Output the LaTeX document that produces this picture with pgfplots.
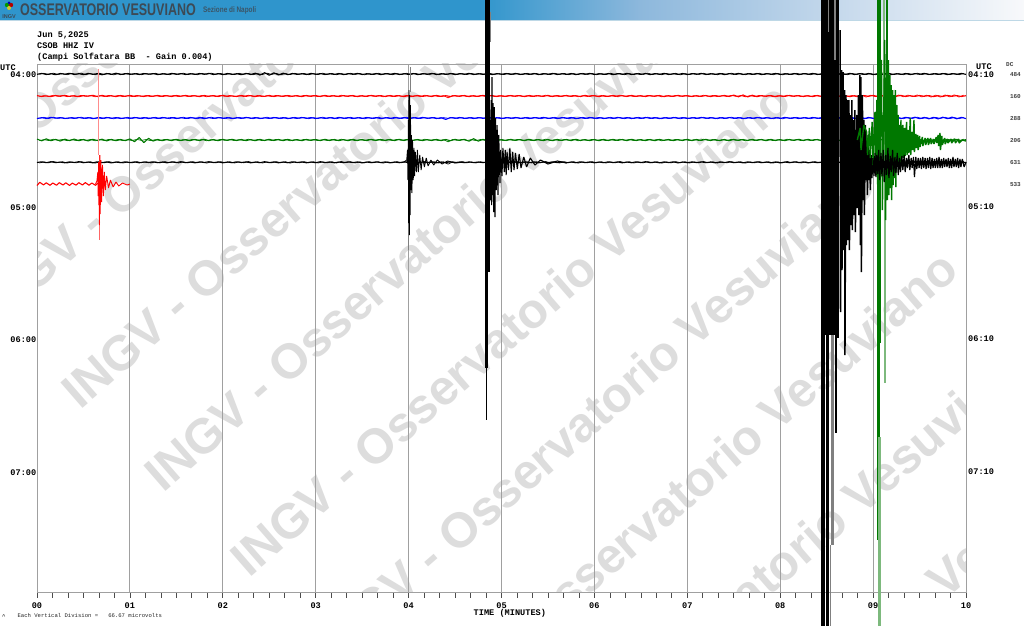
\documentclass[border=0pt]{standalone}
\usepackage{pgfplots}
\usepackage{pgfplotstable}
\usepackage{fontspec}
\pgfplotsset{compat=1.18}
\setmainfont{Liberation Sans}
\newfontfamily\mono{Liberation Mono}
\newcommand\px[1]{\fontsize{#1}{#1}\selectfont}
\definecolor{wm}{HTML}{DDDDDD}
\definecolor{hdr}{HTML}{2F95CC}
\definecolor{hb}{HTML}{8DB8DC}
\definecolor{hc}{HTML}{C6D9EC}
\definecolor{hd}{HTML}{F8F9FB}
\definecolor{grn}{HTML}{007800}
\definecolor{lgrn}{HTML}{7DB97D}
\definecolor{gridc}{HTML}{A0A0A0}
\definecolor{ttl}{HTML}{3D4A55}
\pgfplotstableread{
x a b c d e
0.00 .3 -.4 .5 -.9 .2
0.05 -.6 .5 -.3 .8 -.5
0.10 .5 -.2 .4 -1.1 .4
0.15 -.3 .6 -.6 .7 -.6
0.20 .7 -.5 .2 -.6 .3
0.25 -.5 .3 -.4 1.0 -.2
0.30 .2 -.6 .5 -.8 .5
0.35 -.7 .4 -.2 .6 -.4
0.40 .4 -.3 .4 -.9 .2
0.45 -.3 .7 -.5 .7 -.6
0.50 .6 -.4 .3 -.5 .4
0.55 -.6 .2 -.4 .9 -.3
0.60 .3 -.7 .6 -.7 .5
0.65 -.4 .5 -.3 .5 -.5
0.70 .8 -.6 .4 -.8 .3
0.75 -.5 .4 -.5 .9 -.4
0.80 .4 -.3 .3 -.6 .6
0.85 -.8 .6 -.4 .7 -.3
0.90 .5 -.5 .5 -.5 .4
0.95 -.4 .3 -.2 .6 -.5
1.00 .3 -.6 .4 -1.0 .3
1.05 -.3 .4 -.5 1.6 -.4
1.10 .5 -.2 .3 -2.4 .5
1.15 -.5 .5 -.4 2.6 -.3
1.20 .2 -.4 .5 -1.6 .2
1.25 -.4 .3 -.3 1.0 -.5
1.30 .6 -.6 .4 -.6 .4
1.35 -.3 .4 -.5 .7 -.3
1.40 .4 -.3 .2 -.5 .5
1.45 -.6 .5 -.4 .6 -.4
1.50 .3 -.5 .5 -.7 .3
1.55 -.4 .2 -.3 .5 -.6
1.60 .5 -.6 .4 -.4 .4
1.65 -.3 .4 -.5 .6 -.3
1.70 .4 -.3 .3 -.6 .5
1.75 -.5 .6 -.4 .5 -.4
1.80 .3 -.5 .6 -.7 .2
1.85 -.6 .3 -.3 .6 -.6
1.90 .5 -.4 .4 -.5 .3
1.95 -.4 .5 -.5 .7 -.4
2.00 .6 -.6 .3 -.6 .5
2.05 -.5 .4 -.4 .4 -.3
2.10 .4 -.2 .5 -.7 .4
2.15 -.3 .5 -.3 .5 -.5
2.20 .7 -.5 .4 -.5 .2
2.25 -.6 .3 -.6 .6 -.4
2.30 .5 -.4 .3 -.4 .5
2.35 -.8 .6 -.4 .7 -.3
2.40 1.0 -.3 .5 -.6 .4
2.45 -1.3 .4 -.2 .5 -.6
2.50 1.2 -.6 .4 -.7 .3
2.55 -1.1 .5 -.5 .5 -.4
2.60 .9 -.3 .3 -.5 .5
2.65 -.8 .4 -.4 .6 -.3
2.70 .6 -.5 .6 -.6 .4
2.75 -.5 .3 -.3 .5 -.5
2.80 .4 -.4 .4 -.4 .2
2.85 -.3 .6 -.5 .7 -.4
2.90 .5 -.5 .3 -.6 .5
2.95 -.6 .3 -.4 .4 -.3
3.00 .3 -.4 .5 -.5 .4
3.05 -.4 .5 -.3 .6 -.6
3.10 .5 -.6 .4 -.7 .3
3.15 -.3 .4 -.4 .5 -.4
3.20 .4 -.3 .5 -.5 .5
3.25 -.5 .5 -.6 .6 -.3
3.30 .6 -.4 .3 -.4 .4
3.35 -.4 .3 -.4 .7 -.5
3.40 .3 -.5 .5 -.6 .3
3.45 -.6 .6 -.3 .5 -.4
3.50 .5 -.3 .4 -.5 .6
3.55 -.3 .4 -.5 .6 -.3
3.60 .4 -.6 .3 -.7 .4
3.65 -.5 .3 -.4 .5 -.5
3.70 .6 -.4 .6 -.6 .3
3.75 -.4 .5 -.3 .4 -.4
3.80 .3 -.5 .4 -.5 .5
3.85 -.6 .4 -.5 .6 -.3
3.90 .5 -.3 .3 -.7 .4
3.95 -.3 .6 -.4 .5 -.5
4.00 .4 -.4 .5 -.6 .3
4.05 -.5 .3 -.3 .4 -.4
4.10 .6 -.5 .4 -.5 .4
4.15 -.4 .4 -.6 .6 -.3
4.20 .3 -.3 .3 -.4 .3
4.25 -.6 .5 -.4 .5 -.4
4.30 .5 -.6 .5 -.6 .5
4.35 -.3 .4 -.3 .6 -.3
4.40 .4 -.3 1.4 -.5 .2
4.45 -.5 .5 -.4 .7 -.4
4.50 .6 -.4 .3 -.6 .3
4.55 -.4 .3 -.5 .4 -.3
4.60 .3 -.5 .4 -.7 .4
4.65 -.6 .6 -.3 1.2 -.4
4.70 .5 -.3 .5 -1.3 .3
4.75 -.3 .4 -.4 1.1 -.3
4.80 .4 -.6 .3 -.6 .3
4.85 -.5 .3 -.5 .5 -.4
4.90 .6 -.4 .4 -.5 .3
4.95 -.4 .5 -.3 .6 -.3
5.00 .3 -.3 .5 -.4 .4
5.05 -.5 .4 -.4 .5 -.4
5.10 .4 -.5 .3 -.6 .3
5.15 -.6 .3 -.5 .4 -.3
5.20 .5 -.4 .4 -.5 .4
5.25 -.3 .6 -.3 .6 -.5
5.30 .4 -.5 .5 -.7 .3
5.35 -.5 .3 -.4 .5 -.4
5.40 .6 -.3 .3 -.4 .5
5.45 -.4 .4 -.6 .6 -.3
5.50 .3 -.6 .4 -.5 .4
5.55 -.6 .5 -.3 .7 -.5
5.60 .5 -.4 .5 -.6 .3
5.65 -.3 .3 -.4 .4 -.4
5.70 .4 -.5 .3 -.5 .5
5.75 -.5 .4 -.5 .6 -.3
5.80 .6 -.3 .6 -.7 .4
5.85 -.4 .5 -.3 .5 -.5
5.90 .3 -.6 .4 -.4 .3
5.95 -.6 .3 -.5 .6 -.4
6.00 .5 -.4 .3 -.5 .5
6.05 -.3 .6 -.4 .7 -.3
6.10 .4 -.3 .5 -.6 .4
6.15 -.5 .4 -.3 .5 -.5
6.20 .6 -.5 .4 -.6 .3
6.25 -.4 .3 -.6 .4 -.4
6.30 .3 -.4 .3 -.5 .5
6.35 -.6 .5 -.4 .6 -.3
6.40 .5 -.6 .5 -.7 .4
6.45 -.3 .4 -.3 .5 -.5
6.50 .4 -.3 .4 -.4 .3
6.55 -.5 .5 -.5 .6 -.6
6.60 .6 -.4 .3 -.5 .4
6.65 -.4 .3 -.4 .7 -.3
6.70 .3 -.5 .6 -.6 .5
6.75 -.6 .6 -.3 .4 -.4
6.80 .5 -.3 .4 -.5 .3
6.85 -.3 .4 -.5 .6 -.5
6.90 .4 -.6 .3 -.4 .6
6.95 -.5 .3 -.4 .5 -.3
7.00 .6 -.4 .5 -.7 .4
7.05 -.4 .5 -.3 .6 -.4
7.10 .3 -.3 .4 -.5 .3
7.15 -.6 .4 -.6 .4 -.5
7.20 .5 -.5 .3 -.6 .4
7.25 -.3 .6 -.4 .5 -.3
7.30 .4 -.4 .5 -.4 .5
7.35 -.5 .3 -.3 .6 -.4
7.40 .6 -.6 .4 -.5 .3
7.45 -.4 .5 -.5 .7 -.6
7.50 .3 -.9 .3 -.6 .4
7.55 -.6 .8 -.4 .4 -.3
7.60 .5 -1.0 .6 -.5 .5
7.65 -.3 .9 -.3 .5 -.4
7.70 .4 -.8 .4 -.6 .3
7.75 -.5 .7 -.5 .4 -.5
7.80 .6 -.4 .3 -.5 .4
7.85 -.4 .3 -.4 .7 -.3
7.90 .3 -.5 .5 -.6 .5
7.95 -.6 .6 -.3 .5 -.4
8.00 .5 -.3 .4 -.4 .6
8.05 -.3 .4 -.6 .6 -.3
8.10 .4 -.6 .3 -.5 .4
8.15 -.5 .3 -.4 .4 -.5
8.20 .6 -.4 .5 -.7 .3
8.25 -.4 .5 -.3 .5 -.4
8.30 .3 -.3 .4 -.6 .5
8.35 -.6 .6 -.5 .4 -.3
8.40 .5 -.5 .3 -.5 .4
8.45 -.3 .4 -.4 .6 -.4
8.50 .4 -.3 .5 -.4 .3
8.55 -.5 .5 -.3 .5 -.5
8.60 .6 -.6 .4 -.6 .4
8.65 -.4 .3 -.5 .7 -.3
8.70 .3 -.4 .3 -.5 .5
8.75 -.6 .6 -.4 .4 -.4
8.80 .5 -.3 .6 -.6 .3
8.85 -.3 .5 -.7 .5 -.5
8.90 .4 -.5 .8 -.4 .4
8.95 -.5 .3 -.6 .6 -.3
9.00 .6 -.6 .5 -.5 .5
9.05 -.4 .4 -.7 .7 -.4
9.10 .3 -.3 .6 -.6 .3
9.15 -.6 .5 -.5 .4 -.5
9.20 .5 -.4 .7 -.5 .4
9.25 -.3 .3 -.8 .6 -.3
9.30 .4 -.6 .6 -.4 .5
9.35 -.5 .5 -.7 .5 -.4
9.40 .6 -.3 .5 -.7 .3
9.45 -.4 .4 -.8 .6 -.6
9.50 .3 -.5 .7 -.4 .4
9.55 -.6 .3 -.6 .5 -.3
9.60 .5 -.4 .8 -.6 .5
9.65 -.3 .6 -.7 .4 -.4
9.70 .4 -.3 .9 -.5 .3
9.75 -.5 .5 -.8 .7 -.5
9.80 .6 -.6 .7 -.6 .4
9.85 -.4 .3 -.9 .4 -.3
9.90 .3 -.4 .8 -.5 .5
9.95 -.6 .5 -.7 .6 -.4
10.00 .4 -.3 .6 -.4 .3
}\noise
\pgfplotstableread{
x f
0.00 1.5
0.03 -1.7
0.07 .9
0.10 -1.2
0.14 1.3
0.17 -1.0
0.21 1.2
0.24 -1.3
0.28 1.0
0.31 -1.2
0.35 1.4
0.38 -.9
0.42 1.1
0.45 -1.3
0.49 1.0
0.52 -1.4
0.56 1.2
0.59 -1.0
0.63 1.3
0.66 -1.2
}\lastrow
\begin{document}
\begin{tikzpicture}[x=1pt,y=1pt]
\clip (0,0) rectangle (1024,625);
\fill[white] (0,0) rectangle (1024,625);
\begin{scope}[y=-1pt,yshift=625pt]
% header
\fill[hdr] (0,0) rectangle (480,20);
\shade[left color=hdr,right color=hb] (479.5,0) rectangle (640,20);
\shade[left color=hb,right color=hc] (639.5,0) rectangle (840,20);
\shade[left color=hc,right color=hd] (839.5,0) rectangle (1024,20);
\fill[hdr!85!black,opacity=.3] (0,19.6) rectangle (1024,20.6);
\fill[green!60!black] (7,5) circle (2.2);
\fill[red!70!black] (11,5) circle (2.2);
\fill[yellow!80!black] (9,8) circle (2);
\fill[blue!70!black] (9,3) circle (1.5);
\node[anchor=base,text=ttl,inner sep=0] at (9,19) {\px{5.5}\bfseries INGV};
\node[anchor=base west,inner sep=0,text=ttl,xscale=.745] at (20,16) {\px{16.8}\bfseries OSSERVATORIO VESUVIANO};
\node[anchor=base west,inner sep=0,text=ttl!85!hdr,xscale=.8] at (203,13) {\px{8}\bfseries Sezione di Napoli};
% watermark
\begin{scope}
\clip (37,64) rectangle (966,592);
\foreach \sx/\sy in {-88/243,-4/327,80/411,163/494,249/579,333/663,416/747,500/831,584/915}{
\node[anchor=base west,inner sep=0,rotate=41,text=wm] at (\sx,\sy) {\px{49}\bfseries INGV - Osservatorio Vesuviano};
}
\end{scope}
\end{scope}
\begin{axis}[at={(37pt,33pt)},anchor=south west,scale only axis,width=929pt,height=528pt,
 xmin=0,xmax=10,ymin=64,ymax=592,y dir=reverse,clip=false,
 axis line style={gridc,line width=1pt},
 xtick={0,1,2,3,4,5,6,7,8,9,10},xticklabels={00,01,02,03,04,05,06,07,08,09,10},
 minor x tick num=5,xtick pos=bottom,ytick pos=left,
 xmajorgrids,major grid style={gridc,line width=.9pt},
 x tick style={black!70,line width=.7pt},
 major tick length=5.5pt,minor tick length=5.5pt,xtick align=outside,
 ytick={75,208,340,473},yticklabels={04:00,05:00,06:00,07:00},
 y tick style={draw=none},
 every x tick label/.append style={font=\mono\px{8.6}\bfseries,inner sep=0,yshift=-5.5pt},
 every y tick label/.append style={font=\mono\px{8.6}\bfseries,inner sep=0,xshift=-.5pt},
 /pgf/number format/assume math mode=true,
 xlabel={TIME (MINUTES)},
 xlabel style={at={(axis description cs:0.509,0)},anchor=north,inner sep=0,yshift=-17.5pt,font=\mono\px{8.6}\bfseries},
 every axis plot/.append style={no markers,line join=bevel},
]
\addplot[black,line width=1.1pt] table[x=x,y expr=\thisrow{a}+74]{\noise};
\addplot[black,line width=.7pt,restrict x to domain=0:10] table[x expr=\thisrow{x}+.025,y expr=1.4*\thisrow{e}+74]{\noise};
\addplot[red,line width=1.1pt] table[x=x,y expr=\thisrow{b}+96]{\noise};
\addplot[red,line width=.7pt,restrict x to domain=0:10] table[x expr=\thisrow{x}+.025,y expr=1.3*\thisrow{c}+96]{\noise};
\addplot[blue,line width=1.1pt] table[x=x,y expr=\thisrow{c}+118]{\noise};
\addplot[blue,line width=.7pt,restrict x to domain=0:10] table[x expr=\thisrow{x}+.025,y expr=1.4*\thisrow{e}+118]{\noise};
\addplot[grn,line width=1.1pt] table[x=x,y expr=\thisrow{d}+140]{\noise};
\addplot[grn,line width=.7pt,restrict x to domain=0:10] table[x expr=\thisrow{x}+.025,y expr=1.3*\thisrow{c}+140]{\noise};
\addplot[black,line width=1.1pt] table[x=x,y expr=\thisrow{e}+162.3]{\noise};
\addplot[black,line width=.7pt,restrict x to domain=0:10] table[x expr=\thisrow{x}+.025,y expr=1.3*\thisrow{c}+162.3]{\noise};
\addplot[red,line width=1.1pt] table[x=x,y expr=\thisrow{f}+184]{\lastrow};
% red event
\addplot[red!45,line width=.9pt] coordinates {(0.665,69)(0.665,155)};
\addplot[red!60,line width=.8pt] coordinates {(0.670,155)(0.670,240)};
\addplot[red,line width=.9pt] coordinates {(0.63,184)(0.645,181)(0.655,172)(0.658,196)(0.663,162)(0.666,205)(0.669,170)(0.672,225)(0.676,155)(0.680,214)(0.688,160)(0.695,202)(0.705,165)(0.715,196)(0.725,172)(0.735,190)(0.75,176)(0.77,188)(0.79,180)(0.82,187)(0.85,182)(0.88,186)(0.92,183)(0.97,185)(1.0,184)};
% event at 4 min
\addplot[gray,line width=.8pt] coordinates {(4.018,67)(4.018,92)};
\addplot[gray,line width=.8pt] coordinates {(3.996,210)(3.996,250)};
\addplot[black,line width=.9pt] coordinates {(3.95,162)(3.98,160)(3.988,150)(3.993,180)(3.998,120)(4.000,223)(4.004,90)(4.008,235)(4.012,95)(4.016,215)(4.02,105)(4.024,190)(4.03,135)(4.036,193)(4.042,140)(4.05,180)(4.058,148)(4.065,176)(4.073,152)(4.085,172)(4.095,150)(4.105,172)(4.12,155)(4.135,170)(4.15,157)(4.17,167)(4.19,158)(4.21,166)(4.24,160)(4.27,165)(4.31,160)(4.36,164)(4.42,161)(4.5,163)(4.6,162)};
% event near 4.85 min
\addplot[black,line width=1pt] coordinates {(4.835,360)(4.835,420)};
\addplot[black,line width=3pt] coordinates {(4.843,270)(4.843,368)};
\addplot[black,line width=5pt] coordinates {(4.848,-5)(4.848,272)};
\addplot[gray,line width=1pt] coordinates {(4.882,12)(4.882,42)};
\addplot[black,line width=1.1pt] coordinates {(4.87,160)(4.878,120)(4.882,200)(4.888,100)(4.893,205)(4.898,77)(4.902,195)(4.908,103)(4.915,212)(4.922,107)(4.930,217)(4.936,118)(4.945,190)(4.953,125)(4.962,195)(4.970,135)(4.984,183)(4.99,150)(5.005,176)(5.015,148)(5.03,172)(5.04,150)(5.05,175)(5.06,152)(5.075,170)(5.09,148)(5.105,172)(5.12,152)(5.135,170)(5.15,153)(5.17,169)(5.19,154)(5.21,168)(5.24,157)(5.27,167)(5.31,158)(5.36,165)(5.42,160)(5.5,164)(5.6,161)(5.7,163)};
% large event near 8.5 min
\addplot[black,line width=14pt] coordinates {(8.515,-5)(8.515,335)};
\addplot[black,line width=3.5pt] coordinates {(8.461,335)(8.461,630)};
\addplot[black,line width=3pt] coordinates {(8.509,335)(8.509,630)};
\addplot[gray,line width=3pt] coordinates {(8.558,335)(8.558,545)};
\addplot[gray,line width=1.2pt] coordinates {(8.545,545)(8.545,630)};
\addplot[black,line width=1.6pt] coordinates {(8.60,-5)(8.60,433)};
\addplot[gray,line width=1pt] coordinates {(8.525,-5)(8.525,32)};
\addplot[gray,line width=1.2pt] coordinates {(8.59,-5)(8.59,60)};
\addplot[black,line width=1.6pt] coordinates {(8.622,-5)(8.622,338)};
\addplot[black,line width=1.5pt] coordinates {(8.644,30)(8.649,312)(8.660,70)(8.665,270)(8.676,72)(8.681,250)(8.692,90)(8.697,355)(8.708,95)(8.713,245)(8.724,100)(8.729,240)(8.740,100)(8.745,250)(8.756,115)(8.761,225)(8.772,100)(8.777,230)(8.788,120)(8.793,215)(8.804,110)(8.809,232)(8.826,115)(8.831,208)(8.842,95)(8.847,215)(8.858,75)(8.863,245)(8.869,77)(8.874,272)(8.885,95)(8.890,200)(8.901,120)(8.906,215)(8.917,125)(8.922,180)(8.933,135)(8.938,195)(8.949,145)(8.954,180)(8.965,150)(8.970,190)(8.981,155)(8.986,178)(8.997,158)};
% green event
\addplot[lgrn,line width=2pt] coordinates {(9.117,-5)(9.117,100)};
\addplot[lgrn,line width=1.5pt] coordinates {(9.128,100)(9.128,383)};
\addplot[grn,line width=4pt] coordinates {(9.063,-5)(9.063,343)};
\addplot[grn,line width=2.5pt] coordinates {(9.058,343)(9.058,483)};
\addplot[grn,line width=1pt] coordinates {(9.048,483)(9.048,540)};
\addplot[lgrn,line width=3pt] coordinates {(9.074,437)(9.074,630)};
\addplot[grn,line width=2pt] coordinates {(9.15,-5)(9.15,120)};
\addplot[grn,line width=1.4pt] coordinates {(8.83,140)(8.86,128)(8.87,150)(8.90,125)(8.93,132)(8.94,155)(8.96,128)(8.97,158)(8.99,122)(9.00,165)(9.02,112)(9.03,175)(9.04,100)(9.05,190)(9.09,60)(9.10,210)(9.125,40)(9.135,220)(9.150,30)(9.155,200)(9.165,60)(9.170,195)(9.180,75)(9.185,188)(9.195,85)(9.200,200)(9.210,90)(9.215,185)(9.225,95)(9.23,178)(9.24,90)(9.245,187)(9.255,105)(9.26,165)(9.27,115)(9.275,170)(9.285,125)(9.29,165)(9.30,120)(9.305,160)(9.32,125)(9.325,158)(9.34,128)(9.345,156)(9.36,122)(9.365,155)(9.38,130)(9.385,153)(9.40,118)(9.405,155)(9.42,132)(9.425,150)(9.44,120)(9.445,152)(9.46,134)(9.465,148)(9.48,135)(9.485,150)(9.50,136)(9.505,147)(9.53,137)(9.535,146)(9.56,138)(9.565,145)(9.59,138)(9.595,145)(9.62,138)(9.625,144)(9.65,139)(9.655,144)(9.68,137)(9.685,143)(9.70,135)(9.705,146)(9.72,133)(9.725,150)(9.74,136)(9.745,145)(9.77,138)(9.775,144)(9.80,139)(9.805,143)(9.84,139)(9.845,143)(9.88,139)(9.885,143)(9.92,139)(9.925,143)(9.96,140)(10,141)};
% black coda over the green
\addplot[black,line width=1.2pt] coordinates {(8.999,158)(9.01,176)(9.02,153)(9.03,177)(9.04,155)(9.05,174)(9.06,150)(9.07,180)(9.085,153)(9.095,176)(9.11,150)(9.12,182)(9.135,155)(9.145,175)(9.16,148)(9.17,178)(9.185,156)(9.195,172)(9.21,150)(9.22,176)(9.235,157)(9.245,173)(9.26,153)(9.27,175)(9.285,158)(9.295,172)(9.31,156)(9.32,170)(9.335,155)(9.345,172)(9.36,158)(9.37,168)(9.385,155)(9.395,170)(9.41,158)(9.42,168)(9.435,157)(9.445,177)(9.46,157)(9.47,169)(9.485,158)(9.495,168)(9.51,158)(9.52,169)(9.535,157)(9.545,168)(9.56,158)(9.57,169)(9.585,158)(9.595,168)(9.61,157)(9.62,169)(9.635,158)(9.645,168)(9.66,159)(9.67,168)(9.685,158)(9.695,168)(9.71,157)(9.72,168)(9.735,159)(9.745,168)(9.76,158)(9.77,167)(9.785,159)(9.795,167)(9.81,158)(9.82,168)(9.835,159)(9.845,168)(9.86,157)(9.87,167)(9.885,159)(9.895,167)(9.91,158)(9.92,168)(9.935,159)(9.945,167)(9.96,159)(9.98,167)(10,162)};
\end{axis}
\begin{scope}[y=-1pt,yshift=625pt]
% left and right labels
\node[anchor=base west,inner sep=0] at (37,38) {\mono\px{8.6}\bfseries Jun 5,2025};
\node[anchor=base west,inner sep=0] at (37,49) {\mono\px{8.6}\bfseries CSOB HHZ IV};
\node[anchor=base west,inner sep=0] at (37,60) {\mono\px{8.6}\bfseries (Campi Solfatara BB\ \ - Gain 0.004)};
\node[anchor=base west,inner sep=0] at (0,71) {\mono\px{8.6}\bfseries UTC};
\node[anchor=base west,inner sep=0] at (976,70) {\mono\px{8.6}\bfseries UTC};
\foreach \y/\t in {75/04:10,207/05:10,339/06:10,472/07:10}{
\node[anchor=west,inner sep=0] at (968,\y) {\mono\px{8.6}\bfseries \t};}
\node[anchor=base west,inner sep=0,text=black!75] at (1006,67) {\mono\px{6}\bfseries DC};
\foreach \y/\t in {75/484,97/160,119/288,141/206,163/631,185/533}{
\node[anchor=east,inner sep=0,text=black!75] at (1021,\y) {\mono\px{6}\bfseries \t};}
\node[anchor=base west,inner sep=0,text=black!85] at (14,617) {\mono\px{5.6} Each Vertical Division =\ \ \ 66.67 microvolts};
\node[anchor=base west,inner sep=0,text=black!70] at (2,618) {\mono\px{5.6}\bfseries \^{}};
\end{scope}
\end{tikzpicture}
\end{document}
